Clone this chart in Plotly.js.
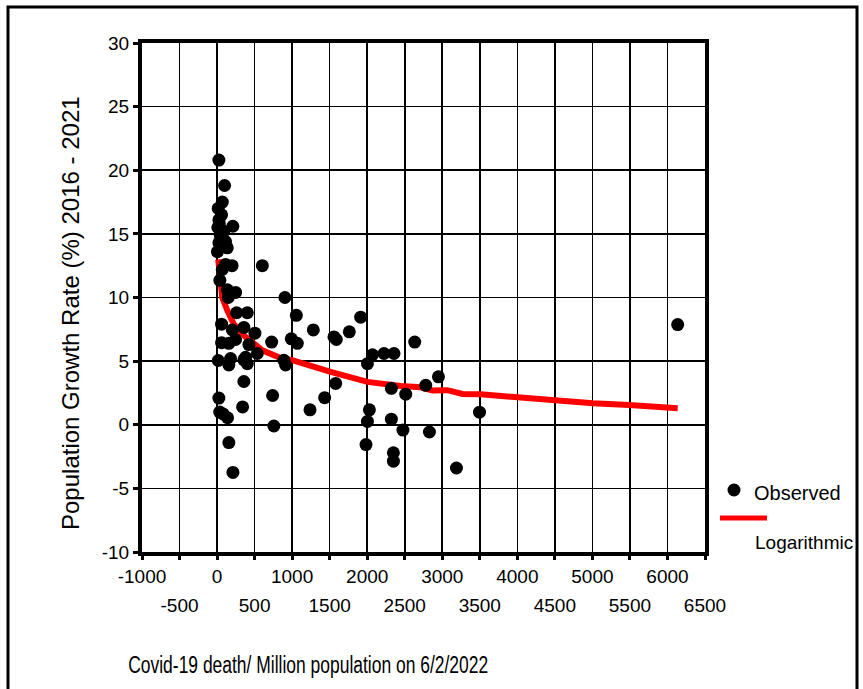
<!DOCTYPE html>
<html><head><meta charset="utf-8">
<script src="https://cdn.plot.ly/plotly-3.0.1.min.js"></script>
<style>html,body{margin:0;padding:0;background:#fff;overflow:hidden}#chart{width:863px;height:689px}</style>
</head><body><div id="chart"></div>
<script>
// Observed points: Covid-19 deaths per million (x) vs population growth rate % (y)
const obsX = [24, 100, 70, 15, 60, 24, 30, 210, 10, 90, 47, 40, 113, 24, 80, 136, 5,
  113, 200, 69, 37, 603, 136, 149, 247, 157,
  260, 403, 60, 203, 357, 504, 727, 60, 157, 247, 424, 536, 380, 16, 180, 157, 357, 403,
  890, 913, 904, 1056, 989, 1069, 1282, 1557, 1589, 1762, 1913, 1580, 1238, 1433, 740, 757,
  340, 357, 1984, 2003, 2029, 2003, 2069, 2224, 2357, 2322, 2322, 2349, 2349, 2476,
  2633, 2949, 2780, 2513, 2829, 3496, 3189, 6136,
  24, 35, 80, 140, 157, 211];
const obsY = [20.8, 18.8, 17.5, 17.0, 16.5, 16.1, 15.8, 15.6, 15.5, 15.2, 14.8, 15.0, 14.4, 14.3, 14.0, 13.9, 13.6,
  12.6, 12.5, 12.2, 11.35, 12.5, 10.6, 10.0, 10.4, 10.4,
  8.8, 8.8, 7.9, 7.45, 7.65, 7.2, 6.5, 6.45, 6.4, 6.7, 6.3, 5.6, 5.3, 5.05, 5.2, 4.7, 5.1, 4.8,
  5.07, 4.7, 10.0, 8.6, 6.75, 6.4, 7.45, 6.9, 6.7, 7.3, 8.45, 3.25, 1.17, 2.13, 2.3, -0.1,
  1.4, 3.4, -1.56, 0.26, 1.17, 4.8, 5.5, 5.6, 5.6, 2.86, 0.44, -2.2, -2.86, -0.42,
  6.5, 3.77, 3.1, 2.4, -0.57, 0.99, -3.4, 7.87,
  2.1, 1.0, 0.85, 0.55, -1.4, -3.75];

// Logarithmic trend line
const trendX = [15, 47, 69, 136, 224, 380, 603, 824, 1000, 1513, 2003, 2447, 2713, 2869, 3069, 3269, 3513, 4003, 4491, 5007, 5491, 6136];
const trendY = [13.0, 10.9, 10.0, 9.0, 7.9, 6.9, 5.85, 5.3, 5.07, 4.15, 3.37, 3.04, 2.94, 2.7, 2.72, 2.42, 2.39, 2.16, 1.9, 1.69, 1.56, 1.3];

const xTicksUpper = [-1000, 0, 1000, 2000, 3000, 4000, 5000, 6000];
const xTicksLower = [-500, 500, 1500, 2500, 3500, 4500, 5500, 6500];
const yTicks = [-10, -5, 0, 5, 10, 15, 20, 25, 30];

const FONT = 'Liberation Sans, Arial, sans-serif';
const X_TITLE = 'Covid-19 death/ Million population on 6/2/2022';

const traces = [
  {x: trendX, y: trendY, mode: 'lines', name: 'Logarithmic',
   line: {color: '#ff0000', width: 6}, showlegend: false, hoverinfo: 'skip'},
  {x: obsX, y: obsY, mode: 'markers', name: 'Observed',
   marker: {color: '#000', size: 13}, showlegend: false},
  {x: [], y: [], xaxis: 'x2', yaxis: 'y', showlegend: false, hoverinfo: 'skip'}
];

const L = 142, R = 705, T = 43, B = 552, W = 863, H = 689;
const pw = R - L, ph = B - T;
const px = v => (v - L) / pw;
const py = v => (B - v) / ph;

const layout = {
  width: W, height: H,
  margin: {l: L, r: W - R, t: T, b: H - B, pad: 0},
  paper_bgcolor: '#fff', plot_bgcolor: '#fff',
  font: {family: FONT, size: 19, color: '#000'},
  showlegend: false,
  xaxis: {
    range: [-1000, 6500], tickmode: 'array', tickvals: xTicksUpper,
    ticktext: xTicksUpper.map(String),
    showgrid: true, gridcolor: '#000', gridwidth: 1.6,
    zeroline: false, showline: true, linecolor: '#000', linewidth: 4, mirror: true,
    ticks: 'outside', ticklen: 4, tickwidth: 3, tickcolor: '#000',
    tickfont: {size: 19, family: FONT},
    minor: {tickvals: xTicksLower, showgrid: true, gridcolor: '#000', gridwidth: 1.6,
            ticks: 'outside', ticklen: 4, tickwidth: 3, tickcolor: '#000'}
  },
  xaxis2: {
    matches: 'x', overlaying: 'x', side: 'bottom', anchor: 'y',
    tickmode: 'array', tickvals: xTicksLower, ticktext: xTicksLower.map(String),
    showgrid: false, zeroline: false, showline: false, ticks: '',
    ticklabelstandoff: 40,
    tickfont: {size: 19, family: FONT}
  },
  yaxis: {
    range: [-10, 30], tickmode: 'array', tickvals: yTicks, ticktext: yTicks.map(String),
    showgrid: true, gridcolor: '#000', gridwidth: 1.6,
    zeroline: false, showline: true, linecolor: '#000', linewidth: 4, mirror: true,
    ticks: 'outside', ticklen: 5, tickwidth: 3, tickcolor: '#000',
    tickfont: {size: 19, family: FONT}
  },
  shapes: [
    {type: 'rect', xref: 'paper', yref: 'paper', x0: px(8), x1: px(857), y0: py(720), y1: py(7),
     line: {color: '#000', width: 3}, fillcolor: 'rgba(0,0,0,0)', layer: 'below'},
    {type: 'circle', xref: 'paper', yref: 'paper', x0: px(734 - 6.5), x1: px(734 + 6.5),
     y0: py(490 + 6.5), y1: py(490 - 6.5), fillcolor: '#000', line: {width: 0}},
    {type: 'line', xref: 'paper', yref: 'paper', x0: px(720), x1: px(767), y0: py(518), y1: py(518),
     line: {color: '#ff0000', width: 5}}
  ],
  annotations: [
    {text: 'Population Growth Rate (%) 2016 - 2021', xref: 'paper', yref: 'paper',
     x: px(70), y: py(313), textangle: -90, showarrow: false, xanchor: 'center', yanchor: 'middle',
     font: {size: 24, family: FONT}},
    {text: X_TITLE, xref: 'paper', yref: 'paper',
     x: px(308), y: py(665), showarrow: false, xanchor: 'center', yanchor: 'middle',
     font: {size: 23, family: FONT}},
    {text: 'Observed', xref: 'paper', yref: 'paper', x: px(752), y: py(493),
     showarrow: false, xanchor: 'left', yanchor: 'middle', font: {size: 20, family: FONT}},
    {text: 'Logarithmic', xref: 'paper', yref: 'paper', x: px(753), y: py(542),
     showarrow: false, xanchor: 'left', yanchor: 'middle', font: {size: 19, family: FONT}}
  ]
};

Plotly.newPlot('chart', traces, layout, {displayModeBar: false, staticPlot: true}).then(gd => {
  // the reference's x title uses a condensed face: compress the real text horizontally
  gd.querySelectorAll('.annotation-text').forEach(t => {
    if (t.textContent === X_TITLE) {
      t.setAttribute('textLength', '360');
      t.setAttribute('lengthAdjust', 'spacingAndGlyphs');
    }
  });
});
</script>
</body></html>
